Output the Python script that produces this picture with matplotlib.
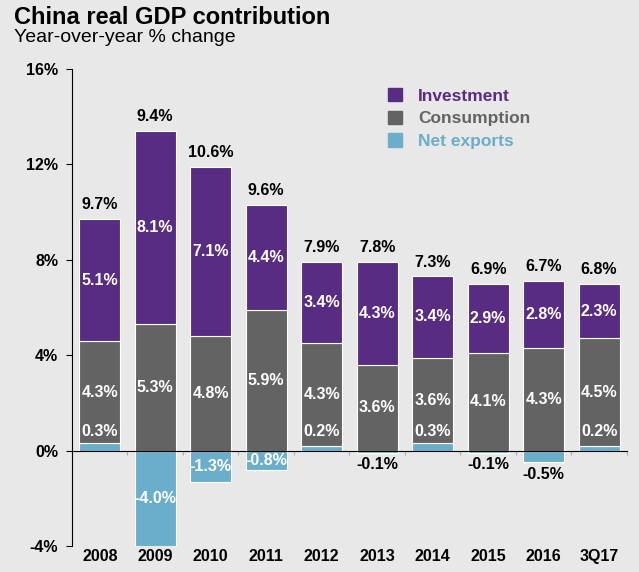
import numpy as np
import matplotlib.pyplot as plt
from matplotlib.patches import Patch

# China real GDP contribution, yoy % change
years = ['2008', '2009', '2010', '2011', '2012', '2013', '2014', '2015', '2016', '3Q17']
investment = [5.1, 8.1, 7.1, 4.4, 3.4, 4.3, 3.4, 2.9, 2.8, 2.3]
consumption = [4.3, 5.3, 4.8, 5.9, 4.3, 3.6, 3.6, 4.1, 4.3, 4.5]
net_exports = [0.3, -4.0, -1.3, -0.8, 0.2, -0.1, 0.3, -0.1, -0.5, 0.2]
totals = [9.7, 9.4, 10.6, 9.6, 7.9, 7.8, 7.3, 6.9, 6.7, 6.8]

c_inv = '#582c83'
c_con = '#636363'
c_net = '#6aaecb'
bg = '#e8e8e8'

plt.rcParams['font.family'] = ['Liberation Sans', 'DejaVu Sans']
plt.rcParams['font.weight'] = 'bold'

fig = plt.figure(figsize=(6.39, 5.72), dpi=100, facecolor=bg)
ax = fig.add_axes([0.1127, 0.0455, 0.8683, 0.834], facecolor=bg)

x = np.arange(len(years))
inv = np.array(investment)
con = np.array(consumption)
net = np.array(net_exports)
pos_net = np.clip(net, 0, None)
w = 0.74

ax.bar(x, net, w, color=c_net, edgecolor='white', linewidth=0.8, zorder=2)
ax.bar(x, con, w, bottom=pos_net, color=c_con, edgecolor='white', linewidth=0.8, zorder=2)
ax.bar(x, inv, w, bottom=pos_net + con, color=c_inv, edgecolor='white', linewidth=0.8, zorder=2)

fs = 11.5
for i in range(len(years)):
    top = pos_net[i] + con[i] + inv[i]
    ax.text(x[i], top + 0.6, f'{totals[i]:.1f}%', ha='center', va='center',
            fontsize=fs, color='black')
    ax.text(x[i], pos_net[i] + con[i] + inv[i] / 2, f'{inv[i]:.1f}%', ha='center',
            va='center', fontsize=fs, color='white')
    ax.text(x[i], pos_net[i] + con[i] / 2, f'{con[i]:.1f}%', ha='center',
            va='center', fontsize=fs, color='white')
    if net[i] > 0:
        ax.text(x[i], 0.8, f'{net[i]:.1f}%', ha='center', va='center',
                fontsize=fs, color='white')
    elif net[i] <= -0.8:
        ax.text(x[i], net[i] / 2, f'{net[i]:.1f}%', ha='center', va='center',
                fontsize=fs, color='white')
    else:
        ax.text(x[i], net[i] - 0.5, f'{net[i]:.1f}%', ha='center', va='center',
                fontsize=fs, color='black')

ax.set_xlim(-0.5, len(years) - 0.5)
ax.set_ylim(-4, 16)
ax.set_yticks([-4, 0, 4, 8, 12, 16])
ax.set_yticklabels([f'{v}%' for v in [-4, 0, 4, 8, 12, 16]], fontsize=fs)
ax.tick_params(axis='y', length=4, width=0.8, pad=6)

# x axis line at zero, small ticks between categories
ax.spines['bottom'].set_position(('data', 0))
ax.spines['bottom'].set_zorder(3)
ax.spines['top'].set_visible(False)
ax.spines['right'].set_visible(False)
ax.set_xticks(np.append(x[1:] - 0.5, len(years) - 0.5))
ax.set_xticklabels([])
ax.tick_params(axis='x', length=3, width=0.8, color='#aaaaaa')

sec = ax.secondary_xaxis(0)
sec.set_xticks(x)
sec.set_xticklabels(years, fontsize=fs)
sec.tick_params(length=0, pad=2)
sec.spines['bottom'].set_visible(False)

handles = [Patch(color=c_inv), Patch(color=c_con), Patch(color=c_net)]
leg = fig.legend(handles, ['Investment', 'Consumption', 'Net exports'],
                 loc='upper left', bbox_to_anchor=(372 / 639, 1 - 72 / 572),
                 frameon=False, fontsize=12.5, handlelength=0.85, handleheight=0.85,
                 labelspacing=0.4, handletextpad=0.9)
for t, c in zip(leg.get_texts(), [c_inv, c_con, c_net]):
    t.set_color(c)

fig.text(14 / 639, 1 - 18 / 572, 'China real GDP contribution', fontsize=17,
         fontweight='bold', va='center', ha='left')
fig.text(14 / 639, 1 - 38 / 572, 'Year-over-year % change', fontsize=14,
         fontweight='normal', va='center', ha='left')

fig.savefig('out.png', dpi=100, facecolor=bg)
